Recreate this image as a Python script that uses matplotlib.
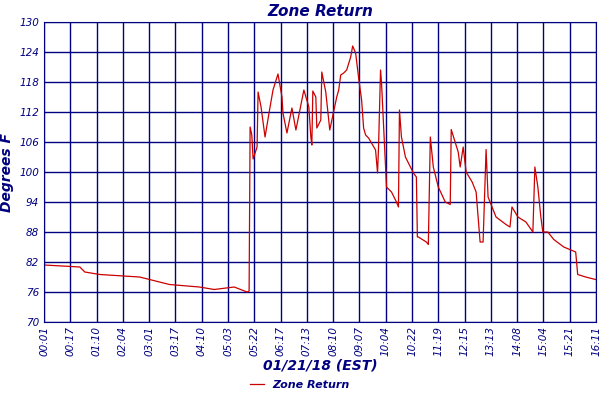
import matplotlib
matplotlib.use("Agg")
import matplotlib.pyplot as plt

tick_labels = ["00:01","00:17","01:10","02:04","03:01","03:17","04:10","05:03","05:22","06:17",
               "07:13","08:10","09:07","10:04","10:22","11:19","12:15","13:13","14:08","15:04",
               "15:21","16:11"]
# x in pixel-like reading, converted below to tick units
px = [44,80,85,100,140,150,170,200,215,235,248,250,251,252.7,254,258,259,262,266,270,274,279,283,284,288,293,297,
      305,310,312,313,314,317,318,322,323,327,331,338,340,342,345,348,352,354,357,360,363,365,367,370,377,379,380,
      382,383,388,393,398,400,401,403,407,415,418,419,420,428,430,432,435,440,447,452,453,460,462,465,468,474,478,
      482,485,488,490,494,498,508,512,514,520,528,535,537,540,543,545,550,556,566,578,580,588,598]
zone_return = [81.4,81,80,79.5,79,78.5,77.5,77,76.5,77,76,76.2,109,107.4,102.6,105,116,113,107,111.8,116.4,119.6,115,
               111.8,107.8,112.8,108.4,116.4,113,107,105.4,116.2,115,108.8,110.4,120,116,108.4,115,116.4,119.4,119.8,
               120.4,123,125.2,123.8,118.8,114.4,108.8,107.4,106.8,104.4,99.8,105,120.4,117.8,97,96,94,93,112.4,107,
               103,99.8,99,87,87,86,85.5,107,101,97,94,93.5,108.5,104,101,105,100,98,96,86,86,104.5,95,93,91,89.5,
               89,93,91,90,88,101,97,91,88,88,86.5,85,84,79.5,79,78.5]
x = [(p - 44) / 26.4 for p in px]

navy = "#000080"
fig = plt.figure(figsize=(6, 4), dpi=100)
ax = fig.add_axes([44/600, 1-322/400, 552/600, 300/400])
ax.plot(x, zone_return, color="#cc0000", lw=0.9, label="Zone Return")
ax.set_xlim(0, 21)
ax.set_ylim(70, 130)
ax.set_yticks(range(70, 131, 6))
ax.set_xticks(range(22))
ax.set_xticklabels(tick_labels, rotation=90, fontsize=7.5, style="italic", color=navy)
ax.tick_params(axis="y", labelsize=7.5, labelcolor=navy, length=0)
ax.tick_params(axis="x", length=0, pad=3)
for lab in ax.get_yticklabels():
    lab.set_style("italic")
ax.grid(True, color=navy, lw=1)
for s in ax.spines.values():
    s.set_color(navy)
ax.set_title("Zone Return", fontsize=11, fontweight="bold", style="italic", color=navy, pad=4)
ax.set_ylabel("Degrees F", fontsize=10, fontweight="bold", style="italic", color=navy)
ax.set_xlabel("01/21/18 (EST)", fontsize=10, fontweight="bold", style="italic", color=navy, labelpad=2)
leg = fig.legend(loc="lower center", bbox_to_anchor=(0.5, 0.0), frameon=False, fontsize=8, handlelength=1.2)
for t in leg.get_texts():
    t.set_color(navy); t.set_style("italic"); t.set_fontweight("bold")
fig.savefig("out.png")
